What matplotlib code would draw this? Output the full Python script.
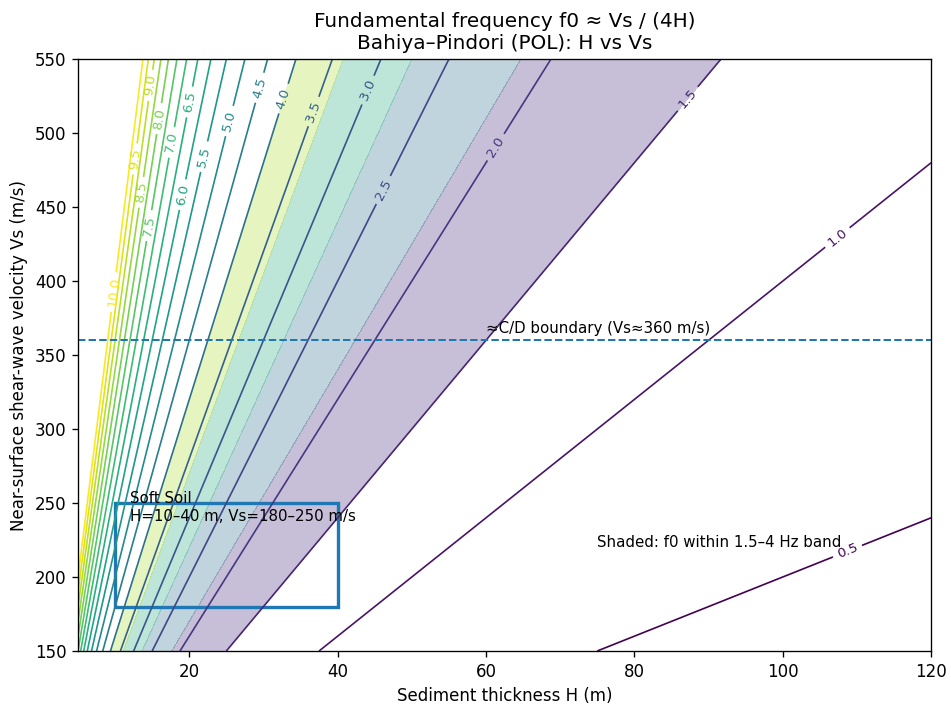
import numpy as np
import matplotlib
matplotlib.use("Agg")
import matplotlib.pyplot as plt
from matplotlib.patches import Rectangle

# ranges of the grid
H_range = [5, 120]          # sediment thickness (m)
Vs_range = [150, 550]       # shear-wave velocity (m/s)

# contour levels (Hz)
line_levels = [0.5, 1.0, 1.5, 2.0, 2.5, 3.0, 3.5, 4.0, 4.5, 5.0,
               5.5, 6.0, 6.5, 7.0, 7.5, 8.0, 8.5, 9.0, 9.5, 10.0]
band_levels = [1.5, 2.125, 2.75, 3.375, 4.0]

# soft soil box and site class boundary
soft_H = [10, 40]
soft_Vs = [180, 250]
cd_boundary = 360

H = np.linspace(H_range[0], H_range[1], 250)
Vs = np.linspace(Vs_range[0], Vs_range[1], 250)
HH, VV = np.meshgrid(H, Vs)
f0 = VV / (4 * HH)

fig = plt.figure(figsize=(951 / 120, 705 / 120), dpi=120)
ax = fig.add_axes([0.082, 0.0766, 0.897, 0.8394])

# shaded band 1.5-4 Hz
ax.contourf(HH, VV, f0, levels=band_levels, cmap="viridis", alpha=0.3)
cs = ax.contour(HH, VV, f0, levels=line_levels, cmap="viridis", linewidths=1)
ax.clabel(cs, inline=True, fontsize=8, fmt="%.1f")

ax.axhline(cd_boundary, color="tab:blue", linestyle="--", linewidth=1.2)
ax.text(60, cd_boundary + 5, "≈C/D boundary (Vs≈360 m/s)", fontsize=9)

ax.add_patch(Rectangle((soft_H[0], soft_Vs[0]), soft_H[1] - soft_H[0],
                       soft_Vs[1] - soft_Vs[0], fill=False,
                       edgecolor="tab:blue", linewidth=2))
ax.text(soft_H[0] + 2, soft_Vs[1] - 12, "Soft Soil\nH=10–40 m, Vs=180–250 m/s",
        fontsize=9)

ax.text(75, 220, "Shaded: f0 within 1.5–4 Hz band", fontsize=9)

ax.set_xlim(H_range)
ax.set_ylim(Vs_range)
ax.set_xlabel("Sediment thickness H (m)")
ax.set_ylabel("Near-surface shear-wave velocity Vs (m/s)")
ax.set_title("Fundamental frequency f0 ≈ Vs / (4H)\nBahiya–Pindori (POL): H vs Vs")

fig.savefig("out.png", dpi=120)
